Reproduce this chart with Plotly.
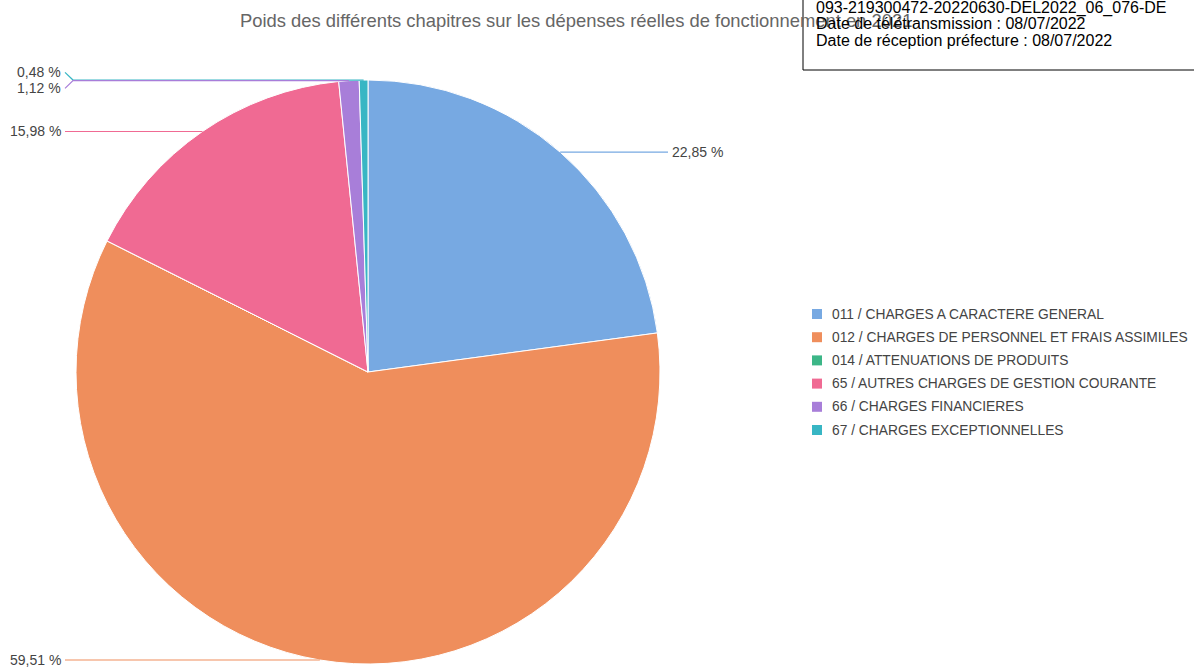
import math
import plotly.graph_objects as go

categories = [
    "011 / CHARGES A CARACTERE GENERAL",
    "012 / CHARGES DE PERSONNEL ET FRAIS ASSIMILES",
    "014 / ATTENUATIONS DE PRODUITS",
    "65 / AUTRES CHARGES DE GESTION COURANTE",
    "66 / CHARGES FINANCIERES",
    "67 / CHARGES EXCEPTIONNELLES",
]
values = [22.85, 59.51, 0.0, 15.98, 1.12, 0.48]
colors = ["#77a9e2", "#ef8e5c", "#3cb687", "#f06a93", "#a87ed9", "#38b6c4"]
title_text = "Poids des différents chapitres sur les dépenses réelles de fonctionnement en 2021"
stamp_lines = [
    "093-219300472-20220630-DEL2022_06_076-DE",
    "Date de télétransmission : 08/07/2022",
    "Date de réception préfecture : 08/07/2022",
]

W, H = 1194, 668
CX, CY, R = 368, 372, 292
FONT = "Liberation Sans, Arial, sans-serif"


def px(x):
    return x / W


def py(y):
    return 1 - y / H


fig = go.Figure()
fig.add_trace(go.Pie(
    labels=categories, values=values, sort=False, direction="clockwise",
    rotation=0, textinfo="none", showlegend=False,
    marker=dict(colors=colors, line=dict(color="white", width=1)),
    domain=dict(x=[px(CX - R), px(CX + R)], y=[py(CY + R), py(CY - R)]),
))

shapes = []
annotations = []

# leader lines and labels computed from the data
total = sum(values)
cum = 0.0
items = []
for v, c in zip(values, colors):
    mid = (cum + v / 2) / total * 2 * math.pi
    cum += v
    if v <= 0:
        continue
    x0 = CX + R * math.sin(mid)
    y0 = CY - R * math.cos(mid)
    items.append(dict(v=v, c=c, x=x0, y=y0, side="right" if math.sin(mid) > 0 else "left"))

for side in ("left", "right"):
    group = sorted([it for it in items if it["side"] == side], key=lambda d: d["y"])
    clusters = []
    for it in group:
        if clusters and it["y"] - clusters[-1][-1]["y"] < 16:
            clusters[-1].append(it)
        else:
            clusters.append([it])
    for cl in clusters:
        mean = sum(i["y"] for i in cl) / len(cl)
        n = len(cl)
        for k, it in enumerate(cl):
            it["ly"] = mean + (k - (n - 1) / 2) * 16
    for it in group:
        txt = f"{it['v']:.2f}".replace(".", ",") + " %"
        if side == "left":
            xe, xb, xa, anchor = 65, 73, 63, "right"
        else:
            xe, xb, xa, anchor = 668, 660, 670, "left"
        path = (f"M {px(it['x'])},{py(it['y'])} L {px(xb)},{py(it['y'])} "
                f"L {px(xe)},{py(it['ly'])}")
        shapes.append(dict(type="path", xref="paper", yref="paper", path=path,
                           line=dict(color=it["c"], width=1.2)))
        annotations.append(dict(x=px(xa), y=py(it["ly"]), xref="paper", yref="paper",
                                text=txt, showarrow=False, xanchor=anchor, yanchor="middle",
                                font=dict(family=FONT, size=14, color="#444")))

# manual legend
for i, (cat, c) in enumerate(zip(categories, colors)):
    yc = 314 + i * 23.2
    shapes.append(dict(type="rect", xref="paper", yref="paper",
                       x0=px(812), x1=px(822), y0=py(yc + 5), y1=py(yc - 5),
                       fillcolor=c, line=dict(width=0)))
    annotations.append(dict(x=px(830), y=py(yc), xref="paper", yref="paper", text=cat,
                            showarrow=False, xanchor="left", yanchor="middle",
                            font=dict(family=FONT, size=13.8, color="#444")))

# title
annotations.append(dict(x=px(576), y=py(20), xref="paper", yref="paper", text=title_text,
                        showarrow=False, xanchor="center", yanchor="middle",
                        font=dict(family=FONT, size=18.4, color="#666")))

# stamp box
shapes.append(dict(type="rect", xref="paper", yref="paper", x0=px(803), x1=px(1200),
                   y0=py(70), y1=py(-5), line=dict(color="black", width=1),
                   fillcolor="rgba(0,0,0,0)"))
for i, line in enumerate(stamp_lines):
    annotations.append(dict(x=px(814), y=py(8 + i * 16), xref="paper", yref="paper",
                            text=line, showarrow=False, xanchor="left", yanchor="middle",
                            font=dict(family=FONT, size=16, color="black")))

fig.update_layout(
    width=W, height=H, margin=dict(l=0, r=0, t=0, b=0),
    paper_bgcolor="white", plot_bgcolor="white",
    shapes=shapes, annotations=annotations, showlegend=False,
)
fig.write_html("out.html")
